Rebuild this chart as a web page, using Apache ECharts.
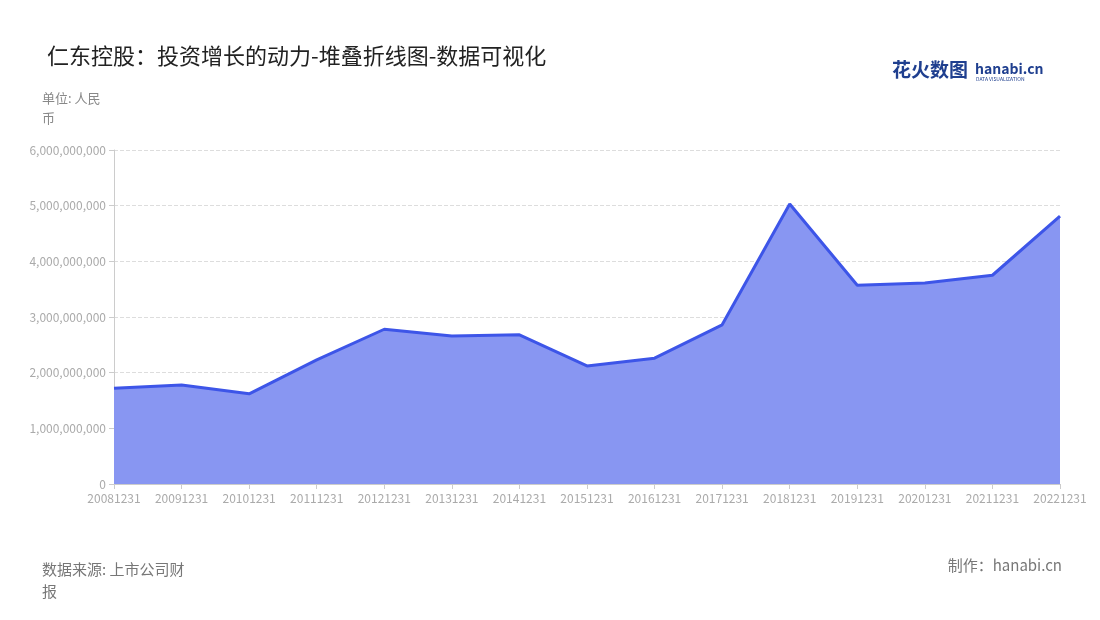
<!DOCTYPE html>
<html>
<head>
<meta charset="utf-8">
<script src="https://cdn.jsdelivr.net/npm/echarts@6/dist/echarts.min.js"></script>
<style>html,body{margin:0;padding:0;background:#fff}#c{width:1100px;height:620px}</style>
</head>
<body>
<div id="c"></div>
<script>
var years = ['20081231','20091231','20101231','20111231','20121231','20131231','20141231','20151231','20161231','20171231','20181231','20191231','20201231','20211231','20221231'];
var values = [1.72e9, 1.78e9, 1.62e9, 2.23e9, 2.78e9, 2.66e9, 2.68e9, 2.12e9, 2.26e9, 2.86e9, 5.03e9, 3.57e9, 3.61e9, 3.75e9, 4.81e9];
var yTicks = [0, 1e9, 2e9, 3e9, 4e9, 5e9, 6e9];

var FONT = '"Noto Sans CJK SC", "Noto Sans", sans-serif';
var chart = echarts.init(document.getElementById('c'), null, { renderer: 'canvas' });

chart.setOption({
  backgroundColor: '#fff',
  title: {
    text: '仁东控股：投资增长的动力-堆叠折线图-数据可视化',
    left: 42, top: 40,
    textStyle: { fontFamily: FONT, fontSize: 22, fontWeight: 'normal', color: '#222' }
  },
  graphic: [
    { type: 'text', left: 42, top: 88, style: { text: '单位: 人民\n币', font: '13px ' + FONT, fill: '#888', lineHeight: 20 } },
    { type: 'text', left: 42, top: 558, style: { text: '数据来源: 上市公司财\n报', font: '15px ' + FONT, fill: '#777', lineHeight: 22 } },
    { type: 'text', right: 38, top: 558, style: { text: '制作：hanabi.cn', font: '15px ' + FONT, fill: '#777' } },
    { type: 'text', left: 892, top: 60, style: { text: '花火数图', font: 'bold 19px ' + FONT, fill: '#1f3f8f' } },
    { type: 'text', left: 975, top: 62, style: { text: 'hanabi.cn', font: 'bold 14px ' + FONT, fill: '#1f3f8f' } },
    { type: 'text', left: 976, top: 77, style: { text: 'DATA VISUALIZATION', font: '5px ' + FONT, fill: '#1f3f8f' } }
  ],
  grid: { left: 114, right: 40, top: 150, bottom: 136, containLabel: false },
  xAxis: {
    type: 'category',
    boundaryGap: false,
    data: years,
    axisLine: { lineStyle: { color: '#ccc' } },
    axisTick: { show: true, lineStyle: { color: '#ccc' } },
    axisLabel: { color: '#aaa', fontFamily: FONT, fontSize: 12, interval: 0 }
  },
  yAxis: {
    type: 'value',
    min: yTicks[0], max: yTicks[yTicks.length - 1], interval: 1e9,
    axisLine: { show: true, lineStyle: { color: '#ccc' } },
    axisTick: { show: true, lineStyle: { color: '#ccc' } },
    splitLine: { lineStyle: { color: '#ddd', type: 'dashed' } },
    axisLabel: {
      color: '#aaa', fontFamily: FONT, fontSize: 12,
      formatter: function (v) { return v.toLocaleString('en-US'); }
    }
  },
  series: [{
    type: 'line',
    data: values,
    symbol: 'none',
    lineStyle: { color: '#3d55e8', width: 3 },
    areaStyle: { color: '#8896f2', opacity: 1 }
  }]
});
</script>
</body>
</html>
